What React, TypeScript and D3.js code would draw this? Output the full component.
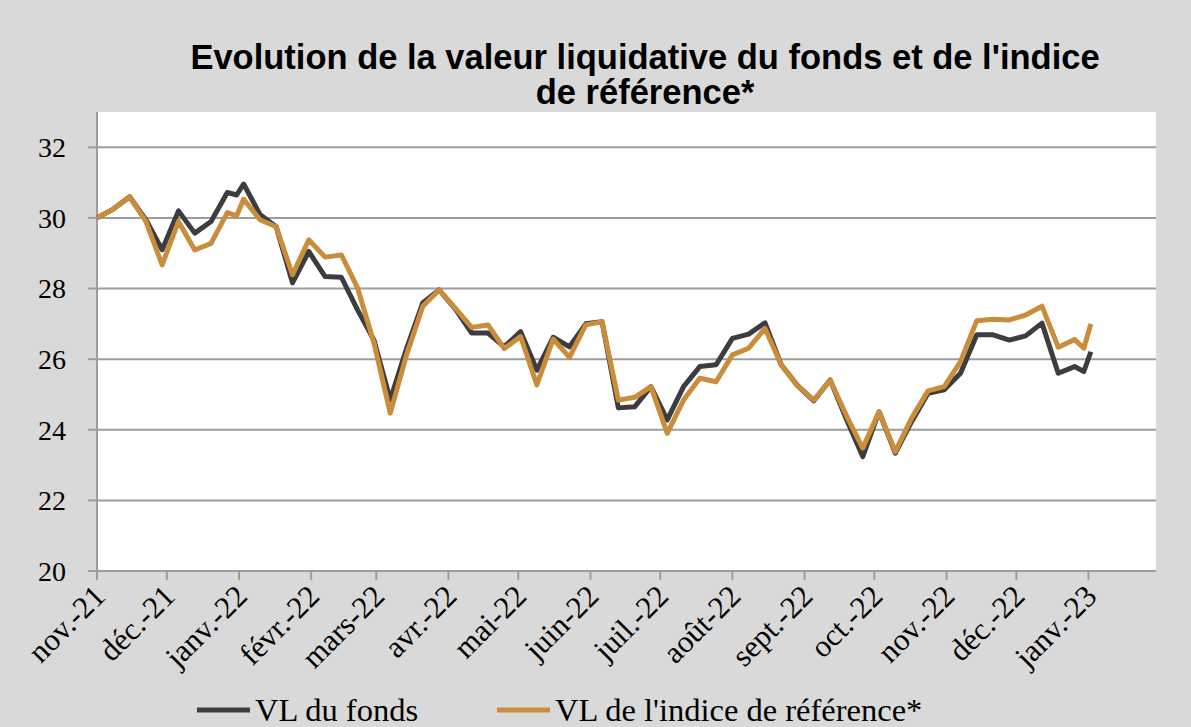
import React, { useEffect, useRef } from 'react';
import * as d3 from 'd3';

// weekly dates (plus month-end points)
const dates = [
  '2021-11-01', '2021-11-08', '2021-11-15', '2021-11-22', '2021-11-29', '2021-12-06', '2021-12-13', '2021-12-20', '2021-12-27', '2021-12-31',
  '2022-01-03', '2022-01-10', '2022-01-17', '2022-01-24', '2022-01-31', '2022-02-07', '2022-02-14', '2022-02-21', '2022-02-28',
  '2022-03-07', '2022-03-14', '2022-03-21', '2022-03-28', '2022-04-04', '2022-04-11', '2022-04-18', '2022-04-25',
  '2022-05-02', '2022-05-09', '2022-05-16', '2022-05-23', '2022-05-30', '2022-06-06', '2022-06-13', '2022-06-20', '2022-06-27',
  '2022-07-04', '2022-07-11', '2022-07-18', '2022-07-25', '2022-08-01', '2022-08-08', '2022-08-15', '2022-08-22', '2022-08-29',
  '2022-09-05', '2022-09-12', '2022-09-19', '2022-09-26', '2022-10-03', '2022-10-10', '2022-10-17', '2022-10-24', '2022-10-31',
  '2022-11-07', '2022-11-14', '2022-11-21', '2022-11-28', '2022-12-05', '2022-12-12', '2022-12-19', '2022-12-26', '2022-12-30',
  '2023-01-02',
];

const vlFonds = [
  30.0, 30.25, 30.6, 29.95, 29.1, 30.2, 29.57, 29.9, 30.72, 30.65,
  30.96, 30.1, 29.75, 28.16, 29.05, 28.34, 28.32, 27.39, 26.54,
  24.85, 26.3, 27.6, 27.96, 27.42, 26.74, 26.74, 26.35,
  26.78, 25.69, 26.62, 26.35, 27.0, 27.06, 24.62, 24.65, 25.22,
  24.28, 25.22, 25.79, 25.84, 26.59, 26.71, 27.03, 25.84, 25.25,
  24.82, 25.41, 24.3, 23.24, 24.51, 23.34, 24.23, 25.03, 25.13,
  25.6, 26.69, 26.69, 26.54, 26.66, 27.02, 25.6, 25.79, 25.65,
  26.21,
];

const vlIndice = [
  30.0, 30.25, 30.6, 29.9, 28.67, 29.9, 29.09, 29.28, 30.15, 30.06,
  30.53, 29.95, 29.75, 28.39, 29.38, 28.89, 28.95, 28.01, 26.46,
  24.47, 26.12, 27.5, 27.96, 27.44, 26.9, 26.97, 26.3,
  26.64, 25.27, 26.57, 26.05, 26.97, 27.06, 24.84, 24.92, 25.22,
  23.9, 24.84, 25.46, 25.36, 26.12, 26.31, 26.87, 25.84, 25.25,
  24.84, 25.41, 24.4, 23.48, 24.51, 23.38, 24.33, 25.1, 25.22,
  25.93, 27.09, 27.13, 27.11, 27.25, 27.5, 26.34, 26.56, 26.31,
  27.0,
];

const monthLabels = [
  'nov.-21', 'déc.-21', 'janv.-22', 'févr.-22', 'mars-22', 'avr.-22', 'mai-22', 'juin-22',
  'juil.-22', 'août-22', 'sept.-22', 'oct.-22', 'nov.-22', 'déc.-22', 'janv.-23',
];
const yTicks = [20, 22, 24, 26, 28, 30, 32];

const seriesNames = ['VL du fonds', "VL de l'indice de référence*"];
const titleLines = ["Evolution de la valeur liquidative du fonds et de l'indice", 'de référence*'];

const W = 1191;
const H = 727;

const App = () => {
  const ref = useRef(null);

  useEffect(() => {
    const parse = d3.timeParse('%Y-%m-%d');
    const xs = dates.map((d) => parse(d));
    const left = 97, right = 1156, top = 112, bottom = 571;
    const serif = '"Liberation Serif", "DejaVu Serif", serif';

    const svg = d3.select(ref.current).append('svg')
      .attr('width', W)
      .attr('height', H)
      .style('position', 'absolute')
      .style('left', 0)
      .style('top', 0);

    svg.append('rect').attr('width', W).attr('height', H).attr('fill', '#d9d9d9');
    svg.append('rect')
      .attr('x', left).attr('y', top)
      .attr('width', right - left).attr('height', bottom - top)
      .attr('fill', '#ffffff');

    const x = d3.scaleTime()
      .domain([new Date(2021, 10, 1), new Date(2023, 0, 30)])
      .range([left, right]);
    const y = d3.scaleLinear().domain([20, 33]).range([bottom, top]);

    // grid + y axis
    svg.append('g').selectAll('line')
      .data(yTicks.slice(1))
      .enter().append('line')
      .attr('x1', left).attr('x2', right)
      .attr('y1', (d) => y(d)).attr('y2', (d) => y(d))
      .attr('stroke', '#9d9d9d').attr('stroke-width', 2);

    svg.append('g').selectAll('line')
      .data(yTicks)
      .enter().append('line')
      .attr('x1', left - 9).attr('x2', left)
      .attr('y1', (d) => y(d)).attr('y2', (d) => y(d))
      .attr('stroke', '#9d9d9d').attr('stroke-width', 2);

    svg.append('g').selectAll('text')
      .data(yTicks)
      .enter().append('text')
      .attr('x', 66).attr('y', (d) => y(d))
      .attr('dy', '0.35em')
      .attr('text-anchor', 'end')
      .style('font-family', serif).style('font-size', '28px').attr('fill', '#000')
      .text((d) => d);

    svg.append('line')
      .attr('x1', left).attr('x2', left).attr('y1', top).attr('y2', bottom)
      .attr('stroke', '#9d9d9d').attr('stroke-width', 2);

    // x axis
    const months = d3.timeMonth.range(new Date(2021, 10, 1), new Date(2023, 0, 2));
    svg.append('line')
      .attr('x1', left - 9).attr('x2', right).attr('y1', bottom).attr('y2', bottom)
      .attr('stroke', '#9d9d9d').attr('stroke-width', 2);
    svg.append('g').selectAll('line')
      .data(months)
      .enter().append('line')
      .attr('x1', (d) => x(d)).attr('x2', (d) => x(d))
      .attr('y1', bottom).attr('y2', bottom + 9)
      .attr('stroke', '#9d9d9d').attr('stroke-width', 2);
    svg.append('g').selectAll('text')
      .data(months)
      .enter().append('text')
      .attr('transform', (d) => `translate(${x(d) + 10},${bottom + 27}) rotate(-45)`)
      .attr('text-anchor', 'end')
      .style('font-family', serif).style('font-size', '31px').attr('fill', '#000')
      .text((d, i) => monthLabels[i]);

    // lines
    const line = (vals) => d3.line()
      .x((d, i) => x(xs[i]))
      .y((d) => y(d))(vals);
    const colors = ['#3d3d3f', '#c98d3b'];
    [vlFonds, vlIndice].forEach((vals, i) => {
      svg.append('path')
        .attr('d', line(vals))
        .attr('fill', 'none')
        .attr('stroke', colors[i])
        .attr('stroke-width', 5)
        .attr('stroke-linejoin', 'round');
    });

    // legend
    const legendX = [197, 497];
    seriesNames.forEach((name, i) => {
      svg.append('line')
        .attr('x1', legendX[i]).attr('x2', legendX[i] + 53)
        .attr('y1', 710).attr('y2', 710)
        .attr('stroke', colors[i]).attr('stroke-width', 5);
      svg.append('text')
        .attr('x', legendX[i] + 58).attr('y', 721)
        .style('font-family', serif).style('font-size', '32.5px').attr('fill', '#000')
        .text(name);
    });

    // title
    svg.append('g').selectAll('text')
      .data(titleLines)
      .enter().append('text')
      .attr('x', 645).attr('y', (d, i) => 69 + i * 35)
      .attr('text-anchor', 'middle')
      .style('font-family', '"Liberation Sans", Arial, sans-serif')
      .style('font-size', '34.5px').style('font-weight', 'bold').attr('fill', '#000')
      .text((d) => d);
  }, []);

  return <div ref={ref}></div>;
};

export default App;
